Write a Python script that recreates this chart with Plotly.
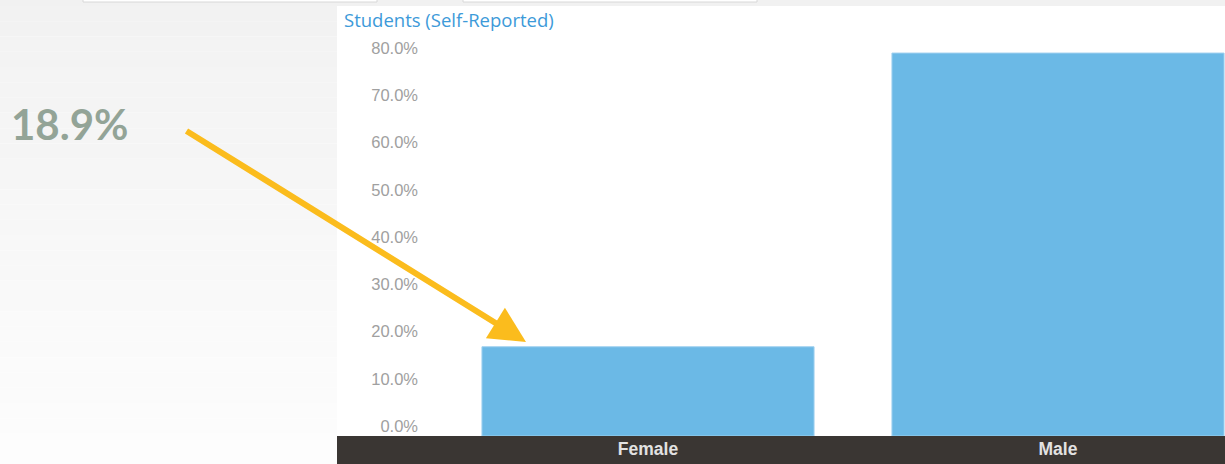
import plotly.graph_objects as go

# ---- data ----
categories = ["Female", "Male"]
values = [18.9, 81.1]
y_ticks = [0, 10, 20, 30, 40, 50, 60, 70, 80]
y_tick_labels = ["0.0%", "10.0%", "20.0%", "30.0%", "40.0%", "50.0%", "60.0%", "70.0%", "80.0%"]
title_text = "Students (Self-Reported)"
callout_text = "18.9%"

W, H = 1225, 464
L, R, T, B = 443, 0, 40, 28
PW, PH = W - L - R, H - T - B


def px(x):
    return (x - L) / PW


def py(y):
    return (H - B - y) / PH


shapes = []
# top gray strip
shapes.append(dict(type="rect", xref="paper", yref="paper", x0=px(0), x1=px(W), y0=py(6), y1=py(0),
                   fillcolor="#f1f1f1", line_width=0, layer="below"))
# left gradient panel
n = 30
top, bot = 6, H
c0, c1 = 0xF2, 0xFD
for i in range(n):
    y0 = top + (bot - top) * i / n
    y1 = top + (bot - top) * (i + 1) / n
    c = round(c0 + (c1 - c0) * i / (n - 1))
    col = "#%02x%02x%02x" % (c, c, c)
    shapes.append(dict(type="rect", xref="paper", yref="paper", x0=px(0), x1=px(337), y0=py(y1), y1=py(y0),
                       fillcolor=col, line_width=0, layer="below"))
# top ui boxes
for (a, b) in [(83, 377), (463, 757)]:
    shapes.append(dict(type="rect", xref="paper", yref="paper", x0=px(a), x1=px(b), y0=py(2), y1=py(-6),
                       fillcolor="#ffffff", line=dict(color="#d8d8d8", width=1), layer="below"))
# dark category strip
shapes.append(dict(type="rect", xref="paper", yref="paper", x0=px(337), x1=px(W), y0=py(H), y1=py(436),
                   fillcolor="#3a3633", line_width=0, layer="below"))

fig = go.Figure()
fig.add_trace(go.Bar(
    x=categories, y=values,
    marker=dict(color="#6bb9e6", line=dict(color="#9fd0ef", width=1)),
    width=0.81,
    hoverinfo="skip",
))

annotations = [
    dict(text=title_text, xref="paper", yref="paper", x=px(342), y=py(19), xanchor="left", yanchor="middle",
         showarrow=False, font=dict(family="Open Sans", size=18.5, color="#3d9ad9")),
    dict(text="<b>" + callout_text + "</b>", xref="paper", yref="paper", x=px(9), y=py(124),
         xanchor="left", yanchor="middle", showarrow=False,
         font=dict(family="Lato", size=42, color="#93a497")),
    dict(text="", xref="paper", yref="paper", x=px(526), y=py(342), ax=185 - 526, ay=130 - 342,
         showarrow=True, arrowhead=2, arrowsize=1.2, arrowwidth=6, arrowcolor="#fbbc1d", standoff=0),
]

fig.update_layout(
    width=W, height=H,
    margin=dict(l=L, r=R, t=T, b=B, pad=0),
    paper_bgcolor="#ffffff",
    plot_bgcolor="rgba(0,0,0,0)",
    showlegend=False,
    shapes=shapes,
    annotations=annotations,
    xaxis=dict(range=[-0.5, -0.5 + PW / 410], showgrid=False, zeroline=False, showline=False, ticks="",
               tickfont=dict(family="Liberation Sans", size=17.5, color="#e2e2e2", weight="bold"),
               fixedrange=True),
    yaxis=dict(range=[0, PH / 4.722], tickvals=y_ticks, ticktext=y_tick_labels,
               showgrid=False, zeroline=False, showline=False, ticks="",
               tickfont=dict(family="Liberation Sans", size=16.5, color="#a0a0a0"),
               ticklabelstandoff=24, ticklabelshift=-10, fixedrange=True),
)

fig.write_html("out.html", post_script="document.body.style.margin='0';",
               config={"displayModeBar": False})
